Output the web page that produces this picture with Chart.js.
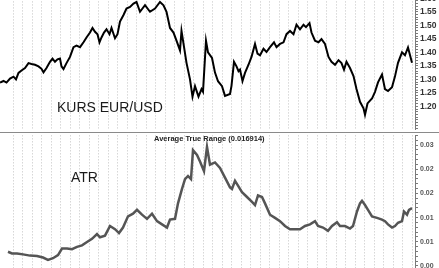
<!DOCTYPE html>
<html><head><meta charset="utf-8">
<script src="https://cdn.jsdelivr.net/npm/chart.js@4"></script>
<style>
html,body{margin:0;padding:0;background:#fff;overflow:hidden;width:439px;height:268px;}
#wrap{position:relative;width:439px;height:268px;overflow:hidden;background:#fff;}
.pane{position:absolute;left:0;width:439px;}
canvas{display:block;}
.lbl{position:absolute;font-family:"Liberation Sans",Arial,sans-serif;color:#1a1a1a;white-space:nowrap;line-height:14px;font-size:14px;}
#divider{position:absolute;left:0;top:132px;width:439px;height:0;border-top:1px solid #8a8a8a;}
</style></head><body>
<div id="wrap">
<div class="pane" style="top:-10px;height:142px"><canvas id="c1" width="439" height="142"></canvas></div>
<div class="pane" style="top:133px;height:145px"><canvas id="c2" width="439" height="145"></canvas></div>
<div id="divider"></div>
<div class="lbl" style="left:57px;top:100px">KURS EUR/USD</div>
<div class="lbl" style="left:71px;top:170px">ATR</div>
<div class="lbl" style="left:154px;top:134px;font-size:7.5px;font-weight:bold;line-height:10px;color:#222">Average True Range (0.016914)</div>
</div>
<script>
// ---- data (trading-day index, value) ----
const priceDays = [0,7,13,20,27,32,37,43,50,57,63,70,77,83,87,93,100,105,110,115,120,123,127,133,140,147,153,160,167,173,180,185,190,195,199,203,208,213,219,223,230,235,240,247,253,260,267,273,280,290,300,310,320,327,333,340,347,353,360,363,367,373,380,385,390,397,403,406,412,416,424,430,436,444,450,460,463,468,473,477,480,485,490,497,503,510,515,520,527,533,540,548,553,560,567,573,580,587,593,600,607,612,619,623,630,637,643,650,657,663,670,677,683,688,693,700,707,713,720,727,730,735,744,750,756,764,770,776,784,790,796,804,810,816,824];
const eurusd = [1.288,1.294,1.288,1.303,1.310,1.300,1.324,1.333,1.342,1.360,1.357,1.354,1.348,1.339,1.326,1.342,1.365,1.377,1.365,1.374,1.377,1.348,1.338,1.360,1.383,1.419,1.425,1.419,1.437,1.455,1.473,1.490,1.476,1.467,1.437,1.455,1.473,1.485,1.467,1.490,1.452,1.467,1.514,1.538,1.562,1.568,1.580,1.586,1.550,1.574,1.550,1.562,1.586,1.574,1.550,1.490,1.473,1.443,1.407,1.479,1.432,1.361,1.300,1.236,1.275,1.236,1.264,1.254,1.443,1.400,1.379,1.325,1.293,1.275,1.239,1.246,1.276,1.365,1.348,1.330,1.336,1.294,1.324,1.354,1.383,1.431,1.395,1.389,1.413,1.401,1.419,1.437,1.419,1.431,1.437,1.467,1.479,1.467,1.502,1.485,1.502,1.493,1.508,1.473,1.443,1.437,1.449,1.431,1.383,1.365,1.354,1.371,1.360,1.336,1.365,1.342,1.312,1.264,1.217,1.193,1.169,1.211,1.229,1.254,1.289,1.318,1.264,1.257,1.271,1.311,1.361,1.400,1.389,1.418,1.361];
const atrDays = [16,24,34,46,60,74,86,96,106,116,124,134,144,154,164,174,184,194,200,210,220,230,238,246,256,266,274,284,294,304,314,324,334,340,350,356,364,370,376,382,386,394,400,408,414,420,430,440,450,460,464,470,476,484,494,504,510,516,524,530,540,550,560,570,580,590,600,610,620,630,636,646,656,664,674,680,690,700,706,714,720,724,730,736,744,754,764,770,776,784,790,796,804,808,814,818,824];
const atr = [0.00794,0.0076,0.0076,0.0074,0.00714,0.00706,0.00674,0.00626,0.0066,0.00726,0.0086,0.0086,0.00846,0.00894,0.00926,0.00994,0.0106,0.0116,0.01094,0.01126,0.01326,0.0126,0.0118,0.01294,0.01526,0.0158,0.0166,0.0156,0.01474,0.0158,0.01426,0.0136,0.01294,0.0146,0.01474,0.01794,0.02094,0.02294,0.0236,0.02294,0.02894,0.02794,0.0266,0.0246,0.0296,0.02594,0.0264,0.02526,0.02326,0.02126,0.02094,0.0226,0.0216,0.02026,0.01926,0.01826,0.0176,0.0196,0.01926,0.01794,0.0156,0.01494,0.01426,0.01326,0.0126,0.0126,0.0126,0.01326,0.0136,0.01426,0.01326,0.01294,0.01226,0.01326,0.01406,0.01326,0.01326,0.01274,0.01326,0.01626,0.01794,0.01846,0.0176,0.0166,0.01526,0.01494,0.0146,0.01426,0.0136,0.01294,0.01326,0.01394,0.01426,0.01626,0.0156,0.0166,0.01694];
const priceTickLabels = ['1.20','1.25','1.30','1.35','1.40','1.45','1.50','1.55','1.60'];
const atrTickLabels = ['0.00','0.01','0.01','0.02','0.02','0.03'];

const dayMax = 830, gridStart = 26, gridStep = 19;
const FONT = '"Liberation Sans", Arial, sans-serif';

function xAxis(){
  return {
    type:'linear', min:0, max:dayMax,
    border:{display:false, dash:[1,2]},
    ticks:{display:false},
    grid:{drawTicks:false, tickLength:0, color:'#c2c2c2', lineWidth:1},
    afterBuildTicks: s => { const t=[]; for(let v=gridStart; v<=dayMax; v+=gridStep) t.push({value:v}); s.ticks=t; }
  };
}
function yAxis(min,max,step,size,color,labelFn){
  return {
    type:'linear', position:'right', min, max,
    afterFit: s => { s.width = 24; },
    border:{display:true, color:'#7a7a7a', width:1},
    grid:{drawOnChartArea:false, drawTicks:true, tickLength:3, tickColor:'#7a7a7a', tickWidth:1},
    ticks:{stepSize:step, autoSkip:false, padding:2, color, includeBounds:false,
      font:{family:FONT, size, weight:'bold', lineHeight:0.1},
      callback: labelFn}
  };
}
function pts(xs,ys){ return xs.map((d,i)=>({x:d,y:ys[i]})); }

new Chart(document.getElementById('c1'), {
  type:'line',
  data:{datasets:[{data:pts(priceDays,eurusd), borderColor:'#000', borderWidth:2, pointRadius:0, tension:0}]},
  options:{
    responsive:false, animation:false, events:[],
    layout:{padding:0},
    plugins:{legend:{display:false}, tooltip:{enabled:false}},
    scales:{
      x:xAxis(),
      y:yAxis(1.55-122*0.05/14, 1.55+20*0.05/14, 0.01, 8.5, '#333', v => {
        const k = Math.round(v*100);
        if (k % 5 !== 0) return '';
        const s = (k/100).toFixed(2);
        return priceTickLabels.includes(s) ? s : '';
      })
    }
  }
});

new Chart(document.getElementById('c2'), {
  type:'line',
  data:{datasets:[{data:pts(atrDays,atr), borderColor:'#555', borderWidth:2.5, pointRadius:0, tension:0}]},
  options:{
    responsive:false, animation:false, events:[],
    layout:{padding:0},
    plugins:{legend:{display:false}, tooltip:{enabled:false}},
    scales:{
      x:xAxis(),
      y:yAxis(0.003, 0.032, 0.001, 7, '#555', v => {
        const k = Math.round(v*1000);
        if (k % 5 !== 0) return '';
        const idx = k/5 - 1;
        return (idx>=0 && idx<atrTickLabels.length) ? atrTickLabels[idx] : '';
      })
    }
  }
});
</script>
</body></html>
